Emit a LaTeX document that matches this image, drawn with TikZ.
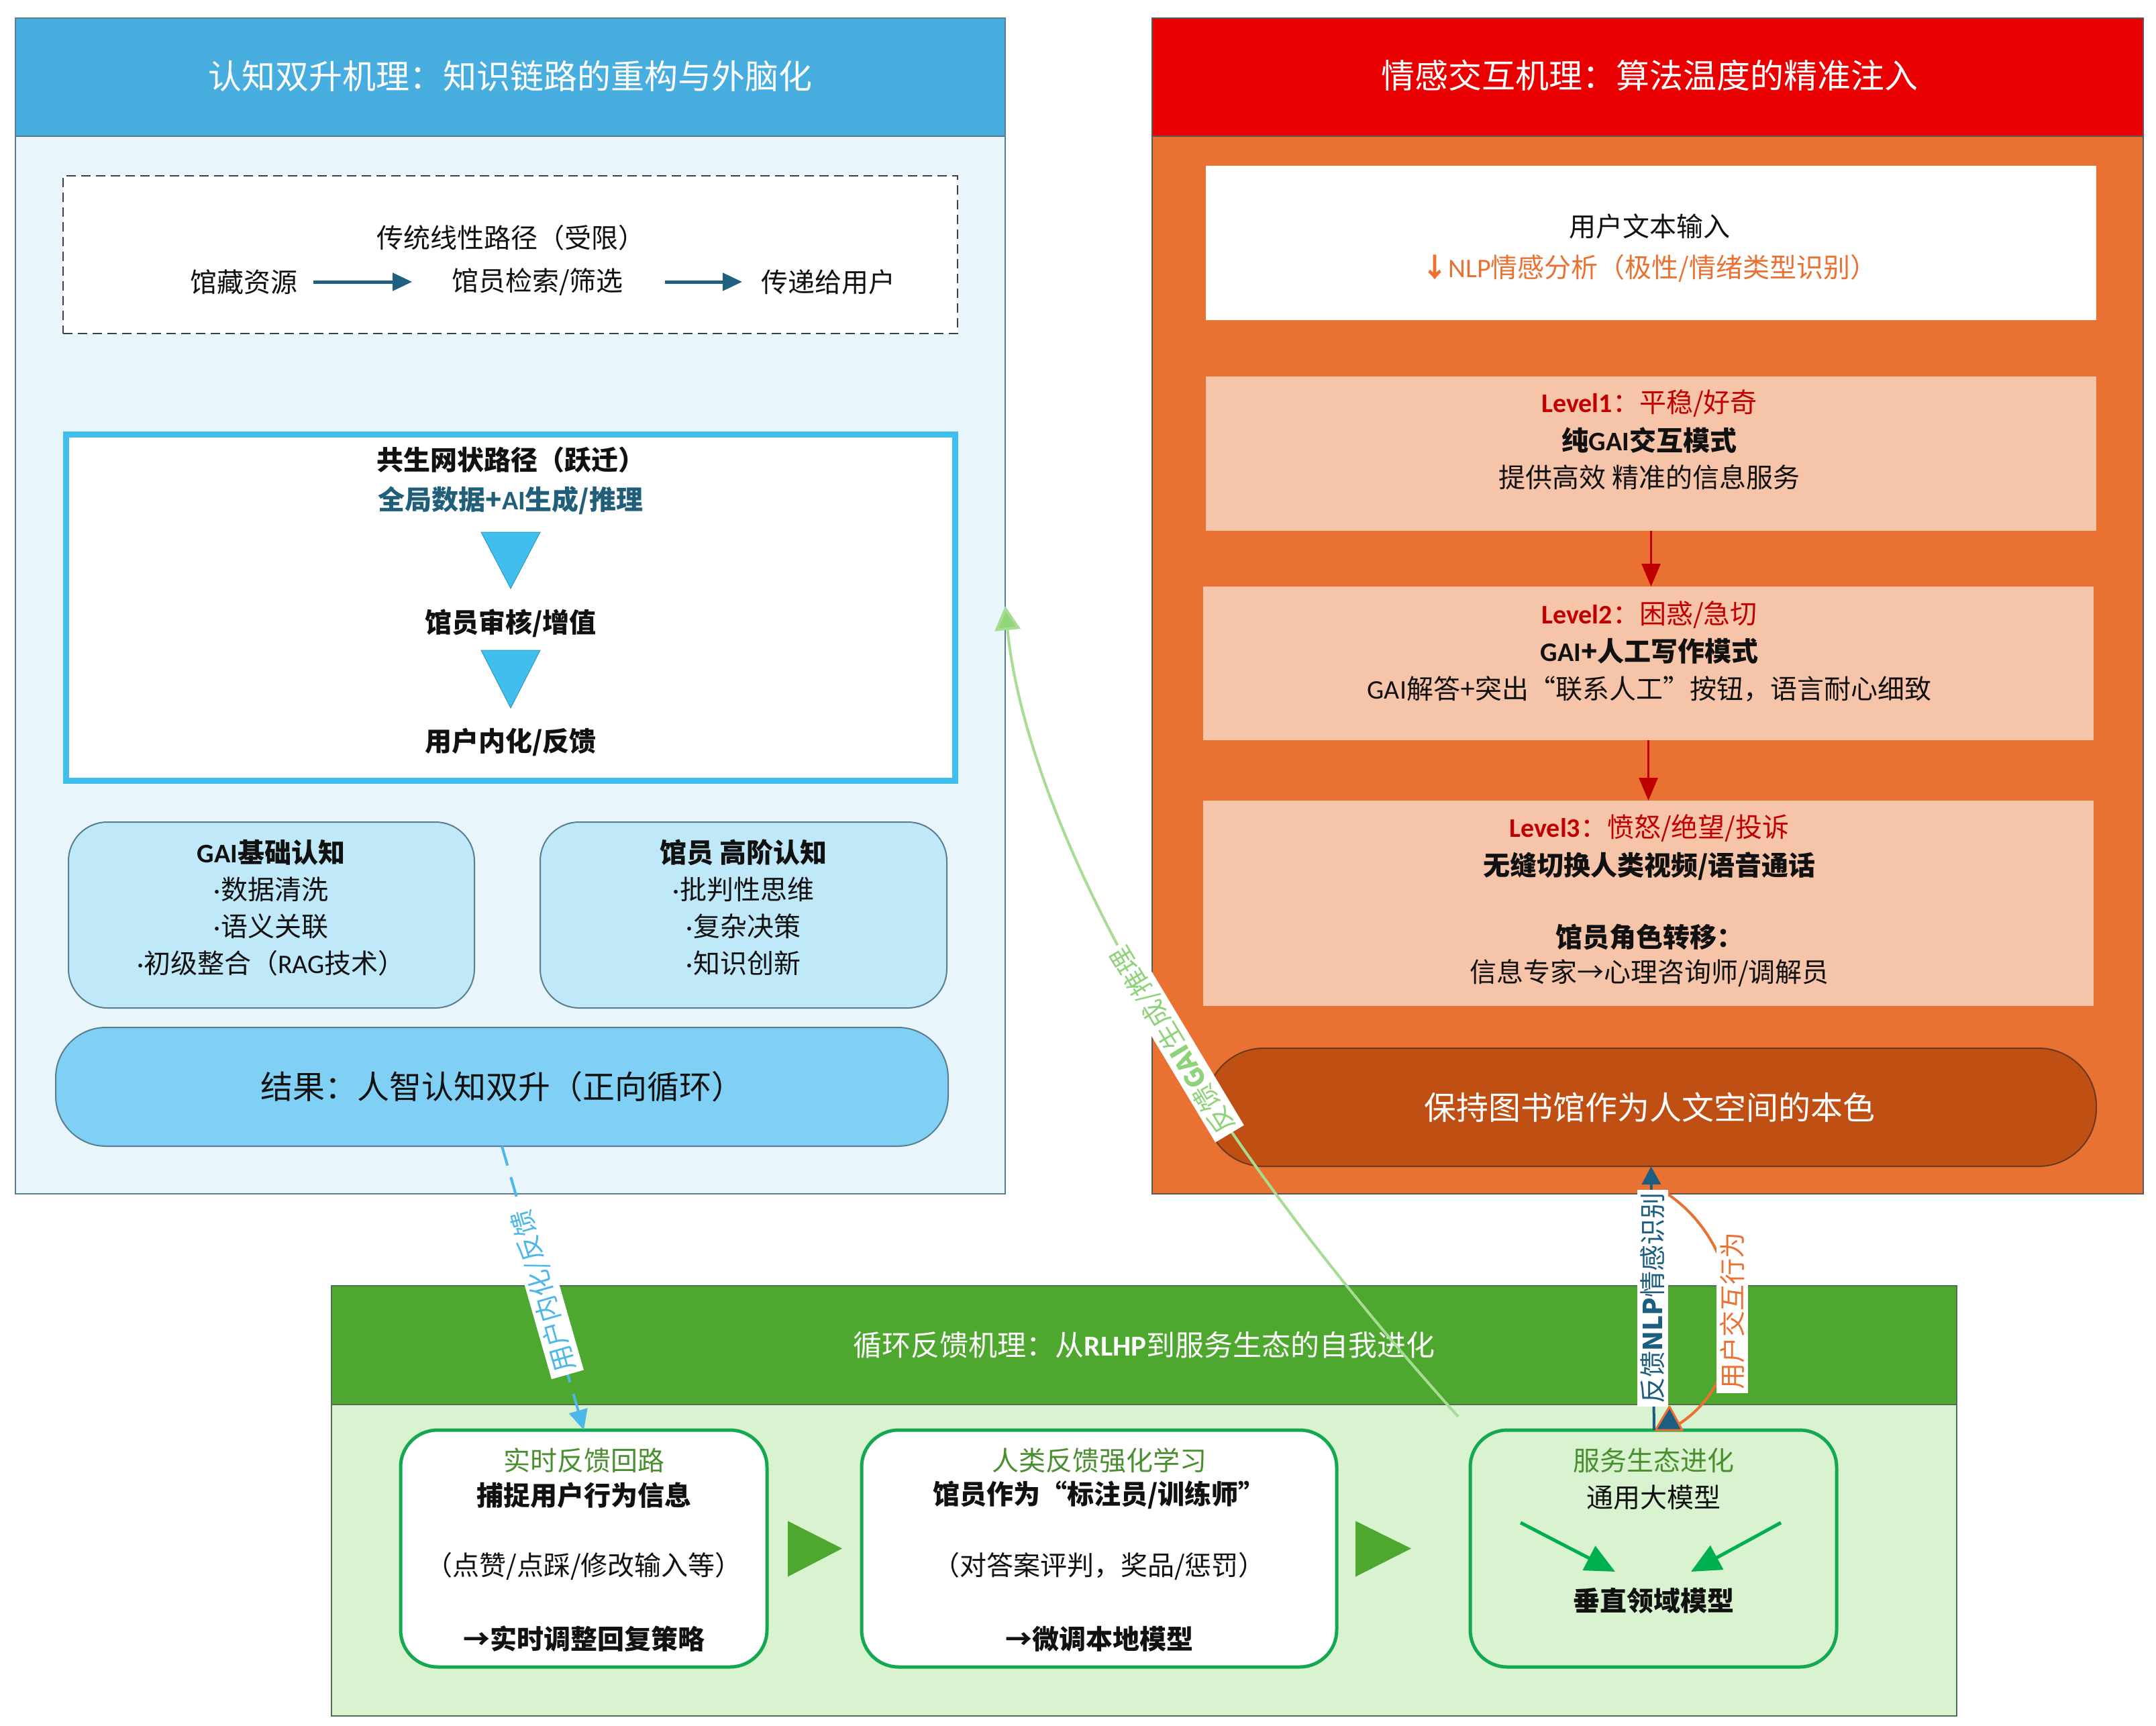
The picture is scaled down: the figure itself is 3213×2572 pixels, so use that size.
\documentclass[tikz,border=0pt]{standalone}
\usepackage{fontspec}
\setmainfont{Noto Sans CJK SC}
\newfontfamily\latf{Carlito}
\usetikzlibrary{arrows.meta,calc}
\definecolor{cLHead}{HTML}{48AEE0}
\definecolor{cLBody}{HTML}{E8F6FC}
\definecolor{cLEdge}{HTML}{5A7E90}
\definecolor{cSym}{HTML}{40BEEE}
\definecolor{cRBox}{HTML}{BFE8F8}
\definecolor{cRPill}{HTML}{80D0F5}
\definecolor{cTeal}{HTML}{1F6080}
\definecolor{cTealTxt}{HTML}{215E79}
\definecolor{cRHead}{HTML}{EA0000}
\definecolor{cRBody}{HTML}{E97132}
\definecolor{cLevel}{HTML}{F6C4A9}
\definecolor{cLvlRed}{HTML}{C00000}
\definecolor{cPill2}{HTML}{BF4F13}
\definecolor{cPill2Edge}{HTML}{6B3A1E}
\definecolor{cGHead}{HTML}{4EA72E}
\definecolor{cGBody}{HTML}{D9F2D0}
\definecolor{cGEdge}{HTML}{4F6F55}
\definecolor{cBoxG}{HTML}{14A850}
\definecolor{cTitleG}{HTML}{4A8F2F}
\definecolor{cArrG}{HTML}{00B050}
\definecolor{cDarkBlue}{HTML}{1D5E80}
\definecolor{cOrange}{HTML}{E97132}
\definecolor{cLblBlue}{HTML}{4DB8E8}
\definecolor{cLGreen}{HTML}{A6DC94}
\definecolor{cLGreenTxt}{HTML}{8ED27A}
\definecolor{cLGreenTip}{HTML}{92D67A}
\definecolor{cText}{HTML}{111111}
\newcommand{\mdot}{{\latf ·}}
\tikzset{
  every node/.style={inner sep=0pt, outer sep=0pt},
  tx/.style={font=\fontsize{40}{48}\selectfont, text=cText},
  txb/.style={font=\fontsize{40}{48}\selectfont\bfseries, text=cText},
  hd/.style={font=\fontsize{50}{60}\selectfont, text=white},
  big/.style={font=\fontsize{48}{58}\selectfont},
  lab/.style={fill=white, inner sep=5pt, font=\fontsize{39}{46}\selectfont},
  panelL/.style={draw=cLEdge, line width=2pt, fill=cLBody},
  headL/.style={draw=cLEdge, line width=2pt, fill=cLHead},
  panelR/.style={draw=black!65, line width=2pt, fill=cRBody},
  headR/.style={draw=black!65, line width=2pt, fill=cRHead},
  panelG/.style={draw=cGEdge, line width=2pt, fill=cGBody},
  headG/.style={draw=cGEdge, line width=2pt, fill=cGHead},
  dbox/.style={draw=black!75, line width=2pt, dash pattern=on 14pt off 8pt, fill=white},
  symbox/.style={draw=cSym, line width=9pt, fill=white},
  rbox/.style={draw=cLEdge, line width=2pt, fill=cRBox, rounded corners=58pt},
  rpill/.style={draw=cLEdge, line width=2pt, fill=cRPill, rounded corners=75pt},
  lvl/.style={fill=cLevel},
  pill2/.style={draw=cPill2Edge, line width=2pt, fill=cPill2, rounded corners=86pt},
  gbox/.style={draw=cBoxG, line width=5pt, rounded corners=55pt},
  tarr/.style={draw=cTeal, line width=5pt, -{Triangle[length=29pt,width=26pt]}},
  rarr/.style={draw=cLvlRed, line width=3pt, -{Triangle[length=34pt,width=28pt]}},
  garr/.style={draw=cArrG, line width=5pt, -{Triangle[length=44pt,width=40pt]}},
  symtri/.style={fill=cSym, draw=cSym!80!black, line width=1pt},
  playtri/.style={fill=cGHead},
}
\begin{document}
\begin{tikzpicture}[x=1pt,y=-1pt]
\useasboundingbox[fill=white] (0,0) rectangle (3213,2572);

%================ LEFT PANEL =================
\node[panelL, minimum width=1475pt, minimum height=1752pt] (lpanel) at (760.5,903) {};
\node[headL, minimum width=1475pt, minimum height=176pt] (lhead) at (760.5,115) {};
\node[hd] (lht) at (760,113) {认知双升机理：知识链路的重构与外脑化};

\node[dbox, minimum width=1333pt, minimum height=235pt] (dbx) at (760.5,379.5) {};
\node[tx] (tt) at (761,354) {传统线性路径（受限）};
\node[tx] (ta) at (363,420) {馆藏资源};
\node[tx] (tb) at (801,420) {馆员检索/筛选};
\node[tx] (tc) at (1234,420) {传递给用户};
\draw[tarr, shorten <=24pt, shorten >=59pt] (ta.east) -- (tb.west);
\draw[tarr, shorten <=62pt, shorten >=28pt] (tb.east) -- (tc.west);

\node[symbox, minimum width=1325pt, minimum height=516pt] (sym) at (761,905.5) {};
\node[txb] (s1) at (761,685) {共生网状路径（跃迁）};
\node[txb, text=cTealTxt] (s2) at (761,746) {全局数据+{\latf AI}生成/推理};
\node[txb] (s3) at (761,929) {馆员审核/增值};
\node[txb] (s4) at (761,1106) {用户内化/反馈};
\path[symtri] (717,793) -- (805,793) -- (761,877) -- cycle;
\path[symtri] (717,969) -- (805,969) -- (761,1055) -- cycle;

\node[rbox, minimum width=605pt, minimum height=277pt] (rb1) at (404.5,1363.5) {};
\node[txb] (r1a) at (404,1270) {{\latf GAI}基础认知};
\node[tx] (r1b) at (404,1325) {\mdot 数据清洗};
\node[tx] (r1c) at (404,1380) {\mdot 语义关联};
\node[tx] (r1d) at (404,1435) {\mdot 初级整合（{\latf RAG}技术）};
\node[rbox, minimum width=606pt, minimum height=277pt] (rb2) at (1108,1363.5) {};
\node[txb] (r2a) at (1108,1270) {馆员 高阶认知};
\node[tx] (r2b) at (1108,1325) {\mdot 批判性思维};
\node[tx] (r2c) at (1108,1380) {\mdot 复杂决策};
\node[tx] (r2d) at (1108,1435) {\mdot 知识创新};

\node[rpill, minimum width=1330pt, minimum height=177pt] (pill) at (748,1619.5) {};
\node[big, text=cText] (pt) at (748,1619) {结果：人智认知双升（正向循环）};

%================ RIGHT PANEL =================
\node[panelR, minimum width=1477pt, minimum height=1752pt] (rpanel) at (2455.5,903) {};
\node[headR, minimum width=1477pt, minimum height=176pt] (rhead) at (2455.5,115) {};
\node[hd] (rht) at (2458,112) {情感交互机理：算法温度的精准注入};

\node[fill=white, minimum width=1327pt, minimum height=230pt] (inbox) at (2460.5,362) {};
\node[tx] (in1) at (2458,337) {用户文本输入};
\node[tx, text=cOrange] (in2) at (2458,400) {{\bfseries ↓}{\latf NLP}情感分析（极性/情绪类型识别）};

\node[lvl, minimum width=1327pt, minimum height=230pt] (L1) at (2460.5,676) {};
\node[tx, text=cLvlRed] (l1a) at (2458,601) {{\latf\bfseries Level1}：平稳/好奇};
\node[txb] (l1b) at (2458,656) {纯{\latf GAI}交互模式};
\node[tx] (l1c) at (2458,711) {提供高效 精准的信息服务};

\node[lvl, minimum width=1327pt, minimum height=229pt] (L2) at (2456.5,988.5) {};
\node[tx, text=cLvlRed] (l2a) at (2458,916) {{\latf\bfseries Level2}：困惑/急切};
\node[txb] (l2b) at (2458,970) {{\latf GAI}+人工写作模式};
\node[tx] (l2c) at (2458,1027) {{\latf GAI}解答+突出“联系人工”按钮，语言耐心细致};

\node[lvl, minimum width=1327pt, minimum height=306pt] (L3) at (2456.5,1346) {};
\node[tx, text=cLvlRed] (l3a) at (2458,1234) {{\latf\bfseries Level3}：愤怒/绝望/投诉};
\node[txb] (l3b) at (2458,1291) {无缝切换人类视频/语音通话};
\node[txb] (l3c) at (2458,1396) {馆员角色转移：};
\node[tx] (l3d) at (2458,1450) {信息专家→心理咨询师/调解员};

\draw[rarr] (L1.south) -- (L1.south |- L2.north);
\draw[rarr] (L2.south) -- (L2.south |- L3.north);

\node[pill2, minimum width=1327pt, minimum height=176pt] (pill2) at (2460.5,1650) {};
\node[big, text=white] (p2t) at (2458,1650) {保持图书馆作为人文空间的本色};

%================ BOTTOM GREEN PANEL =================
\node[panelG, minimum width=2422pt, minimum height=641pt] (gpanel) at (1705,2236.5) {};
\node[headG, minimum width=2422pt, minimum height=177pt] (ghead) at (1705,2004.5) {};
\node[font=\fontsize{43}{52}\selectfont, text=white] (ght) at (1705,2004) {循环反馈机理：从{\latf\bfseries RLHP}到服务生态的自我进化};

\node[gbox, fill=white, minimum width=546pt, minimum height=353pt] (b1) at (870,2307.5) {};
\node[tx, text=cTitleG] (b1a) at (870,2176) {实时反馈回路};
\node[txb] (b1b) at (870,2228) {捕捉用户行为信息};
\node[tx] (b1c) at (870,2334) {（点赞/点踩/修改输入等）};
\node[txb] (b1d) at (870,2442) {→实时调整回复策略};

\node[gbox, fill=white, minimum width=708pt, minimum height=353pt] (b2) at (1638,2307.5) {};
\node[tx, text=cTitleG] (b2a) at (1638,2176) {人类反馈强化学习};
\node[txb] (b2b) at (1638,2228) {馆员作为“标注员/训练师”};
\node[tx] (b2c) at (1638,2334) {（对答案评判，奖品/惩罚）};
\node[txb] (b2d) at (1638,2442) {→微调本地模型};

\node[gbox, fill=cGBody, minimum width=546pt, minimum height=353pt] (b3) at (2464,2307.5) {};
\node[tx, text=cTitleG] (b3a) at (2464,2176) {服务生态进化};
\node[tx] (b3b) at (2464,2231) {通用大模型};
\node[txb] (b3c) at (2464,2385) {垂直领域模型};
\draw[garr] ($(b3b)+(-198,38)$) -- ($(b3c)+(-57,-43)$);
\draw[garr] ($(b3b)+(190,38)$) -- ($(b3c)+(56,-43)$);

\path[playtri] ($(b1.east)+(31,-41)$) -- ($(b1.east)+(31,42)$) -- ($(b1.east)+(112,0)$) -- cycle;
\path[playtri] ($(b2.east)+(28,-41)$) -- ($(b2.east)+(28,42)$) -- ($(b2.east)+(111,0)$) -- cycle;

%================ CONNECTORS =================
% dashed blue: result -> realtime loop
\draw[draw=cLblBlue, line width=4pt, dash pattern=on 30pt off 18pt,
      -{Triangle[length=30pt,width=28pt]}]
  (pill.south) -- (b1.north)
  node[lab, pos=0.51, rotate=106, text=cLblBlue] (lb1) {用户内化/反馈};

% light green curve: service evolution -> left panel
\draw[draw=cLGreen, line width=4pt, shorten <=27pt,
      -{Triangle[length=36pt,width=38pt,fill=cLGreenTip]}]
  (b3.north west) .. controls (1660,1540) and (1520,1130) .. (lpanel.east)
  node[lab, pos=0.37, rotate=121, text=cLGreenTxt] (lb2) {反馈{\bfseries GAI}生成/推理};

% orange curve: user interaction behaviour
\draw[draw=cOrange, line width=4pt]
  ($(pill2.south)+(10,32)$) .. controls (2610,1850) and (2620,2060) .. ($(b3.north)+(26,-2)$)
  node[lab, pos=0.5, rotate=90, text=cOrange] (lb4) {用户交互行为};
\filldraw[fill=cDarkBlue, draw=cOrange, line width=3pt, line join=round]
  ($(b3.north)+(24,-35)$) -- ($(b3.north)+(3,0)$) -- ($(b3.north)+(43,0)$) -- cycle;

% dark blue: NLP emotion recognition feedback
\draw[draw=cDarkBlue, line width=4pt, -{Triangle[length=27pt,width=28pt]}]
  ($(b3.north)+(1,0)$) -- (pill2.south)
  node[lab, pos=0.5, rotate=90, text=cDarkBlue] (lb3) {反馈{\bfseries NLP}情感识别};
\end{tikzpicture}
\end{document}
